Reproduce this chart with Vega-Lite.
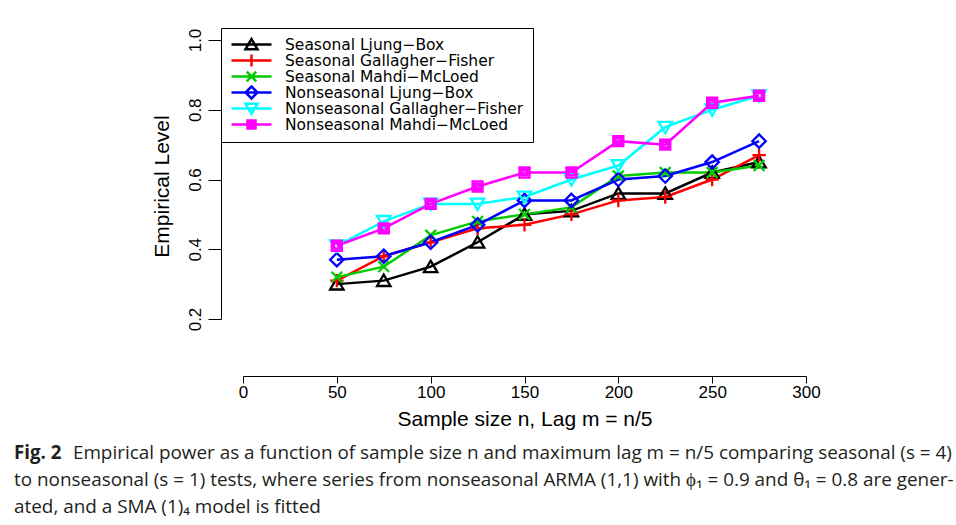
{
  "$schema": "https://vega.github.io/schema/vega-lite/v6.json",
  "width": 563,
  "height": 279,
  "padding": {"left": 14, "top": 27, "right": 5, "bottom": 5},
  "background": "white",
  "config": {"view": {"stroke": null}, "font": "Liberation Sans"},
  "title": {
    "text": "Fig. 2",
    "subtitle": [
      "\u200b\u00a0\u00a0\u00a0\u00a0\u00a0\u00a0\u00a0\u00a0\u00a0\u00a0\u00a0\u00a0Empirical power as a function of sample size n and maximum lag m = n/5 comparing seasonal (s = 4)",
      "to nonseasonal (s = 1) tests, where series from nonseasonal ARMA (1,1) with \u03d5\u2081 = 0.9 and \u03b8\u2081 = 0.8 are gener-",
      "ated, and a SMA (1)\u2084 model is fitted"
    ],
    "orient": "bottom",
    "anchor": "start",
    "frame": "bounds",
    "font": "Open Sans",
    "fontSize": 18.7,
    "fontWeight": "bold",
    "color": "#231f20",
    "subtitleFont": "Open Sans",
    "subtitleFontSize": 18.9,
    "subtitleColor": "#231f20",
    "subtitleLineHeight": 27,
    "subtitlePadding": -18.7,
    "offset": 15,
    "dx": -137
  },
  "data": {
    "values": [
      {"n": 50, "series": "Seasonal Ljung\u2212Box", "v": 0.30},
      {"n": 75, "series": "Seasonal Ljung\u2212Box", "v": 0.31},
      {"n": 100, "series": "Seasonal Ljung\u2212Box", "v": 0.35},
      {"n": 125, "series": "Seasonal Ljung\u2212Box", "v": 0.42},
      {"n": 150, "series": "Seasonal Ljung\u2212Box", "v": 0.50},
      {"n": 175, "series": "Seasonal Ljung\u2212Box", "v": 0.51},
      {"n": 200, "series": "Seasonal Ljung\u2212Box", "v": 0.56},
      {"n": 225, "series": "Seasonal Ljung\u2212Box", "v": 0.56},
      {"n": 250, "series": "Seasonal Ljung\u2212Box", "v": 0.62},
      {"n": 275, "series": "Seasonal Ljung\u2212Box", "v": 0.65},
      {"n": 50, "series": "Seasonal Gallagher\u2212Fisher", "v": 0.31},
      {"n": 75, "series": "Seasonal Gallagher\u2212Fisher", "v": 0.38},
      {"n": 100, "series": "Seasonal Gallagher\u2212Fisher", "v": 0.42},
      {"n": 125, "series": "Seasonal Gallagher\u2212Fisher", "v": 0.46},
      {"n": 150, "series": "Seasonal Gallagher\u2212Fisher", "v": 0.47},
      {"n": 175, "series": "Seasonal Gallagher\u2212Fisher", "v": 0.50},
      {"n": 200, "series": "Seasonal Gallagher\u2212Fisher", "v": 0.54},
      {"n": 225, "series": "Seasonal Gallagher\u2212Fisher", "v": 0.55},
      {"n": 250, "series": "Seasonal Gallagher\u2212Fisher", "v": 0.60},
      {"n": 275, "series": "Seasonal Gallagher\u2212Fisher", "v": 0.67},
      {"n": 50, "series": "Seasonal Mahdi\u2212McLoed", "v": 0.32},
      {"n": 75, "series": "Seasonal Mahdi\u2212McLoed", "v": 0.35},
      {"n": 100, "series": "Seasonal Mahdi\u2212McLoed", "v": 0.44},
      {"n": 125, "series": "Seasonal Mahdi\u2212McLoed", "v": 0.48},
      {"n": 150, "series": "Seasonal Mahdi\u2212McLoed", "v": 0.50},
      {"n": 175, "series": "Seasonal Mahdi\u2212McLoed", "v": 0.52},
      {"n": 200, "series": "Seasonal Mahdi\u2212McLoed", "v": 0.61},
      {"n": 225, "series": "Seasonal Mahdi\u2212McLoed", "v": 0.62},
      {"n": 250, "series": "Seasonal Mahdi\u2212McLoed", "v": 0.62},
      {"n": 275, "series": "Seasonal Mahdi\u2212McLoed", "v": 0.64},
      {"n": 50, "series": "Nonseasonal Ljung\u2212Box", "v": 0.37},
      {"n": 75, "series": "Nonseasonal Ljung\u2212Box", "v": 0.38},
      {"n": 100, "series": "Nonseasonal Ljung\u2212Box", "v": 0.42},
      {"n": 125, "series": "Nonseasonal Ljung\u2212Box", "v": 0.47},
      {"n": 150, "series": "Nonseasonal Ljung\u2212Box", "v": 0.54},
      {"n": 175, "series": "Nonseasonal Ljung\u2212Box", "v": 0.54},
      {"n": 200, "series": "Nonseasonal Ljung\u2212Box", "v": 0.60},
      {"n": 225, "series": "Nonseasonal Ljung\u2212Box", "v": 0.61},
      {"n": 250, "series": "Nonseasonal Ljung\u2212Box", "v": 0.65},
      {"n": 275, "series": "Nonseasonal Ljung\u2212Box", "v": 0.71},
      {"n": 50, "series": "Nonseasonal Gallagher\u2212Fisher", "v": 0.41},
      {"n": 75, "series": "Nonseasonal Gallagher\u2212Fisher", "v": 0.48},
      {"n": 100, "series": "Nonseasonal Gallagher\u2212Fisher", "v": 0.53},
      {"n": 125, "series": "Nonseasonal Gallagher\u2212Fisher", "v": 0.53},
      {"n": 150, "series": "Nonseasonal Gallagher\u2212Fisher", "v": 0.55},
      {"n": 175, "series": "Nonseasonal Gallagher\u2212Fisher", "v": 0.60},
      {"n": 200, "series": "Nonseasonal Gallagher\u2212Fisher", "v": 0.64},
      {"n": 225, "series": "Nonseasonal Gallagher\u2212Fisher", "v": 0.75},
      {"n": 250, "series": "Nonseasonal Gallagher\u2212Fisher", "v": 0.80},
      {"n": 275, "series": "Nonseasonal Gallagher\u2212Fisher", "v": 0.84},
      {"n": 50, "series": "Nonseasonal Mahdi\u2212McLoed", "v": 0.41},
      {"n": 75, "series": "Nonseasonal Mahdi\u2212McLoed", "v": 0.46},
      {"n": 100, "series": "Nonseasonal Mahdi\u2212McLoed", "v": 0.53},
      {"n": 125, "series": "Nonseasonal Mahdi\u2212McLoed", "v": 0.58},
      {"n": 150, "series": "Nonseasonal Mahdi\u2212McLoed", "v": 0.62},
      {"n": 175, "series": "Nonseasonal Mahdi\u2212McLoed", "v": 0.62},
      {"n": 200, "series": "Nonseasonal Mahdi\u2212McLoed", "v": 0.71},
      {"n": 225, "series": "Nonseasonal Mahdi\u2212McLoed", "v": 0.70},
      {"n": 250, "series": "Nonseasonal Mahdi\u2212McLoed", "v": 0.82},
      {"n": 275, "series": "Nonseasonal Mahdi\u2212McLoed", "v": 0.84}
    ]
  },
  "encoding": {
    "x": {
      "field": "n", "type": "quantitative",
      "scale": {"domain": [0, 300], "nice": false, "zero": false},
      "axis": {
        "values": [0, 50, 100, 150, 200, 250, 300],
        "title": "Sample size n, Lag m = n/5",
        "titleFont": "Liberation Sans", "titleFontSize": 21, "titleFontWeight": "normal", "titleColor": "black",
        "labelFont": "Liberation Sans", "labelFontSize": 17, "labelColor": "black", "labelPadding": 1, "labelFlush": false,
        "tickSize": 7, "tickColor": "black", "domainColor": "black", "grid": false,
        "offset": 57, "titlePadding": 8
      }
    },
    "y": {
      "field": "v", "type": "quantitative",
      "scale": {"domain": [0.2, 1.0], "nice": false, "zero": false},
      "axis": {
        "values": [0.2, 0.4, 0.6, 0.8, 1.0],
        "format": ".1f",
        "labelAngle": -90,
        "title": "Empirical Level",
        "titleFont": "Liberation Sans", "titleFontSize": 21, "titleFontWeight": "normal", "titleColor": "black",
        "labelFont": "Liberation Sans", "labelFontSize": 17, "labelColor": "black", "labelPadding": 4, "labelFlush": false,
        "tickSize": 13, "tickColor": "black", "domainColor": "black", "grid": false,
        "offset": 22, "titlePadding": 14, "titleY": 146
      }
    }
  },
  "layer": [
    {
      "mark": {"type": "line", "strokeWidth": 2.5},
      "encoding": {
        "color": {
          "field": "series", "type": "nominal",
          "scale": {
            "domain": ["Seasonal Ljung\u2212Box", "Seasonal Gallagher\u2212Fisher", "Seasonal Mahdi\u2212McLoed", "Nonseasonal Ljung\u2212Box", "Nonseasonal Gallagher\u2212Fisher", "Nonseasonal Mahdi\u2212McLoed"],
            "range": ["#000000", "#ff0000", "#00cd00", "#0000ff", "#00ffff", "#ff00ff"]
          },
          "legend": null
        }
      }
    },
    {
      "mark": {"type": "point", "filled": false, "strokeWidth": 2.3, "size": 180, "opacity": 1},
      "encoding": {
        "color": {
          "field": "series", "type": "nominal",
          "scale": {
            "domain": ["Seasonal Ljung\u2212Box", "Seasonal Gallagher\u2212Fisher", "Seasonal Mahdi\u2212McLoed", "Nonseasonal Ljung\u2212Box", "Nonseasonal Gallagher\u2212Fisher", "Nonseasonal Mahdi\u2212McLoed"],
            "range": ["#000000", "#ff0000", "#00cd00", "#0000ff", "#00ffff", "#ff00ff"]
          },
          "legend": null
        },
        "shape": {
          "field": "series", "type": "nominal",
          "scale": {
            "domain": ["Seasonal Ljung\u2212Box", "Seasonal Gallagher\u2212Fisher", "Seasonal Mahdi\u2212McLoed", "Nonseasonal Ljung\u2212Box", "Nonseasonal Gallagher\u2212Fisher", "Nonseasonal Mahdi\u2212McLoed"],
            "range": [
              "M0,-0.9L1,0.8L-1,0.8Z",
              "M-1,0L1,0M0,-1L0,1",
              "M-0.8,-0.8L0.8,0.8M-0.8,0.8L0.8,-0.8",
              "M0,-1L1,0L0,1L-1,0Z",
              "M0,0.9L1,-0.8L-1,-0.8Z",
              "M-0.75,-0.75H0.75V0.75H-0.75ZM-0.4,-0.4H0.4V0.4H-0.4Z"
            ]
          },
          "legend": null
        }
      }
    },
    {
      "mark": {"type": "point", "filled": false, "strokeWidth": 2.5, "size": 256, "opacity": 0},
      "encoding": {
        "color": {
          "field": "series", "type": "nominal",
          "scale": {
            "domain": ["Seasonal Ljung\u2212Box", "Seasonal Gallagher\u2212Fisher", "Seasonal Mahdi\u2212McLoed", "Nonseasonal Ljung\u2212Box", "Nonseasonal Gallagher\u2212Fisher", "Nonseasonal Mahdi\u2212McLoed"],
            "range": ["#000000", "#ff0000", "#00cd00", "#0000ff", "#00ffff", "#ff00ff"]
          },
          "legend": {
            "orient": "none", "legendX": -22, "legendY": -12,
            "title": null,
            "labelFont": "DejaVu Sans", "labelFontSize": 15.5, "labelColor": "black", "labelLimit": 500,
            "symbolOffset": 12, "labelOffset": 24, "symbolSize": 256, "symbolStrokeWidth": 2.5,
            "strokeColor": "black", "padding": 9, "rowPadding": 0, "clipHeight": 15
          }
        },
        "shape": {
          "field": "series", "type": "nominal",
          "scale": {
            "domain": ["Seasonal Ljung\u2212Box", "Seasonal Gallagher\u2212Fisher", "Seasonal Mahdi\u2212McLoed", "Nonseasonal Ljung\u2212Box", "Nonseasonal Gallagher\u2212Fisher", "Nonseasonal Mahdi\u2212McLoed"],
            "range": [
              "M-2.5,0H2.5M0,-0.68L0.75,0.6L-0.75,0.6Z",
              "M-2.5,0H2.5M0,-0.75V0.75",
              "M-2.5,0H2.5M-0.6,-0.6L0.6,0.6M-0.6,0.6L0.6,-0.6",
              "M-2.5,0H2.5M0,-0.75L0.75,0L0,0.75L-0.75,0Z",
              "M-2.5,0H2.5M0,0.68L0.75,-0.6L-0.75,-0.6Z",
              "M-2.5,0H2.5M-0.5,-0.5H0.5V0.5H-0.5ZM-0.25,-0.25H0.25V0.25H-0.25Z"
            ]
          },
          "legend": {
            "orient": "none", "legendX": -22, "legendY": -12,
            "title": null,
            "labelFont": "DejaVu Sans", "labelFontSize": 15.5, "labelColor": "black", "labelLimit": 500,
            "symbolOffset": 12, "labelOffset": 24, "symbolSize": 256, "symbolStrokeWidth": 2.5,
            "strokeColor": "black", "padding": 9, "rowPadding": 0, "clipHeight": 15
          }
        }
      }
    }
  ],
  "resolve": {"scale": {"shape": "independent", "color": "independent"}}
}
